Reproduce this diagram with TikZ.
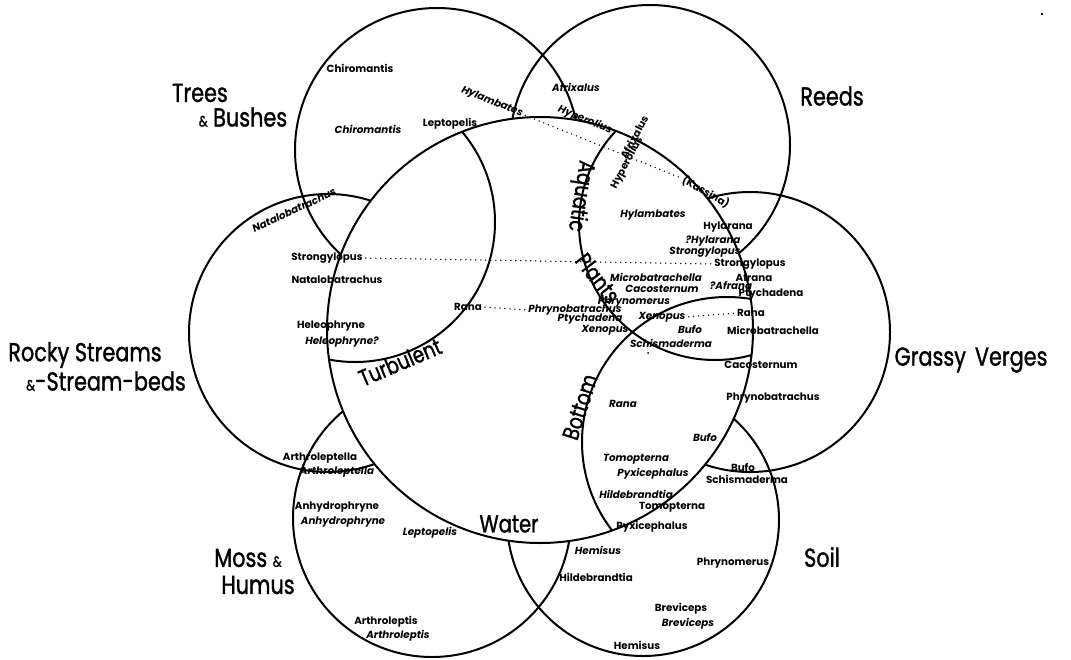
\documentclass[tikz,border=0pt]{standalone}
\usepackage{fontspec}
\setmainfont{Poppins}
\newfontfamily\bigfont[FakeStretch=0.8,FakeBold=1.2]{Poppins}
\usetikzlibrary{positioning}
\tikzset{>=stealth}
\tikzset{
  frog/.style={font=\bfseries\fontsize{10.3}{11}\selectfont, inner sep=0pt},
  frogi/.style={frog, font=\bfseries\itshape\fontsize{10.3}{11}\selectfont},
  habitat/.style={font=\bigfont\fontsize{26}{28}\selectfont, inner sep=0pt},
  zone/.style={font=\bigfont\fontsize{23}{25}\selectfont, inner sep=0pt},
  ring/.style={line width=2pt},
  dotline/.style={line width=1.5pt, line cap=round, dash pattern=on 0pt off 5pt, shorten <=3pt, shorten >=3pt},
}
\newcommand{\amp}{{\fontsize{15}{15}\selectfont\&}}

\begin{document}
\begin{tikzpicture}[x=1pt,y=-1pt]
\useasboundingbox (0,0) rectangle (1071,659);
% habitats
\draw[ring] (437,150) circle[radius=142]; % trees
\draw[ring] (650,145) circle[radius=140]; % reeds
\draw[ring] (750,332) circle[radius=140]; % grassy verges
\draw[ring] (643,520) circle[radius=136]; % soil
\draw[ring] (432,518) circle[radius=139]; % moss
\draw[ring] (328,333) circle[radius=139]; % rocky streams
% water and its zones
\fill[white] (540,330) circle[radius=213];
\begin{scope}
\clip (540,330) circle[radius=213];
\draw[ring] (355,222) circle[radius=140]; % turbulent
\draw[ring] (715,224) circle[radius=136]; % aquatic plants
\draw[ring] (727,442) circle[radius=145]; % bottom
\end{scope}
\draw[ring] (540,330) circle[radius=213];
\fill (1042,14) circle[radius=1.3];
\fill (648,353) circle[radius=1];

% habitat names
\node[habitat] (treesA) at (200,93) {Trees};
\node[habitat] (treesB) at (243,117) {\amp\ Bushes};
\node[habitat] (reeds) at (832,96) {Reeds};
\node[habitat] (grassy) at (971,360) {Grassy\hspace{9pt}Verges};
\node[habitat] (soil) at (822,557) {Soil};
\node[habitat] (mossA) at (248,558) {Moss \amp};
\node[habitat] (mossB) at (258,585) {Humus};
\node[habitat] (rockyA) at (85,355) {Rocky Streams};
\node[habitat] (rockyB) at (106,381) {\amp-Stream-beds};
\node[zone, font=\bigfont\fontsize{24.5}{26}\selectfont] (water) at (509,524) {Water};
\node[zone, rotate=23] (turb) at (400,362) {Turbulent};
\node[zone, rotate=-99] (aquat) at (580,196) {Aquatic};
\node[zone, rotate=-52] (plants) at (598,278) {Plants};
\node[zone, rotate=72] (bottom) at (580,407) {Bottom};

% trees and bushes
\node[frog] (chiroA) at (360,68) {Chiromantis};
\node[frogi] (chiroB) at (368,129) {Chiromantis};
\node[frog] (leptoA) at (450,124) {Leptopelis};
\node[frogi, rotate=-22] (hylamA) at (492,102) {Hylambates};
% reeds
\node[frogi] (afrixA) at (576,87) {Afrixalus};
\node[frogi, rotate=-22] (hyperA) at (585,120) {Hyperolius};
\node[frog, rotate=62] (afrixB) at (634,137) {Afrixalus};
\node[frog, rotate=62] (hyperB) at (627,163) {Hyperolius};
\node[frog, rotate=-30] (kassA) at (706,192) {(Kassina)};
\node[frogi] (hylamB) at (653,215) {Hylambates};
\node[frog] (hylarA) at (728,227) {Hylarana};
\node[frogi] (hylarB) at (713,241) {?Hylarana};
\node[frogi] (strongB) at (705,252) {Strongylopus};
% grassy verges
\node[frog] (strongC) at (750,264) {Strongylopus};
\node[frog] (afranA) at (754,277) {Afrana};
\node[frogi] (afranB) at (731,285) {?Afrana};
\node[frog] (ptychA) at (771,294) {Ptychadena};
\node[frog] (ranaB) at (751,313) {Rana};
\node[frog] (microA) at (773,330) {Microbatrachella};
\node[frog] (cacoA) at (761,365) {Cacosternum};
\node[frog] (phrynobA) at (773,398) {Phrynobatrachus};
% aquatic plants
\node[frogi] (microB) at (656,277) {Microbatrachella};
\node[frogi] (cacoB) at (662,289) {Cacosternum};
\node[frogi] (phrynomA) at (634,302) {Phrynomerus};
\node[frogi] (phrynobB) at (575,310) {Phrynobatrachus};
\node[frogi] (ptychB) at (590,319) {Ptychadena};
\node[frogi] (xenoA) at (605,330) {Xenopus};
\node[frogi] (xenoB) at (662,317) {Xenopus};
\node[frogi] (bufoA) at (690,329) {Bufo};
\node[frogi] (schisA) at (671,343) {Schismaderma};
% bottom
\node[frogi] (ranaC) at (623,404) {Rana};
\node[frogi] (bufoB) at (705,437) {Bufo};
\node[frogi] (tomoA) at (636,459) {Tomopterna};
\node[frogi] (pyxiA) at (653,474) {Pyxicephalus};
\node[frogi] (hildeA) at (636,494) {Hildebrandtia};
\node[frog] (tomoB) at (672,507) {Tomopterna};
\node[frog] (pyxiB) at (652,527) {Pyxicephalus};
\node[frog] (bufoC) at (743,467) {Bufo};
\node[frog] (schisB) at (747,479) {Schismaderma};
% soil
\node[frogi] (hemiA) at (598,550) {Hemisus};
\node[frog] (hildeB) at (596,577) {Hildebrandtia};
\node[frog] (phrynomB) at (733,563) {Phrynomerus};
\node[frog] (breviA) at (681,609) {Breviceps};
\node[frogi] (breviB) at (688,624) {Breviceps};
\node[frog] (hemiB) at (637,645) {Hemisus};
% rocky streams
\node[frogi, rotate=25] (nataA) at (294,210) {Natalobatrachus};
\node[frog] (strongA) at (327,258) {Strongylopus};
\node[frog] (nataB) at (337,280) {Natalobatrachus};
\node[frog] (heleA) at (331,326) {Heleophryne};
\node[frogi] (heleB) at (342,342) {Heleophryne?};
\node[frog] (ranaA) at (468,307) {Rana};
% moss and humus
\node[frog] (arthA) at (320,458) {Arthroleptella};
\node[frogi] (arthB) at (337,472) {Arthroleptella};
\node[frog] (anhyA) at (337,507) {Anhydrophryne};
\node[frogi] (anhyB) at (343,522) {Anhydrophryne};
\node[frogi] (leptoB) at (430,533) {Leptopelis};
\node[frog] (arthC) at (386,622) {Arthroleptis};
\node[frogi] (arthD) at (398,636) {Arthroleptis};

% same genus across habitats
\draw[dotline] (hylamA.east) -- (kassA.west);
\draw[dotline] (strongA.east) -- (strongC.west);
\draw[dotline] (ranaA.east) -- (phrynobB.west);
\draw[dotline] (xenoB.east) -- (ranaB.west);
\end{tikzpicture}
\end{document}
